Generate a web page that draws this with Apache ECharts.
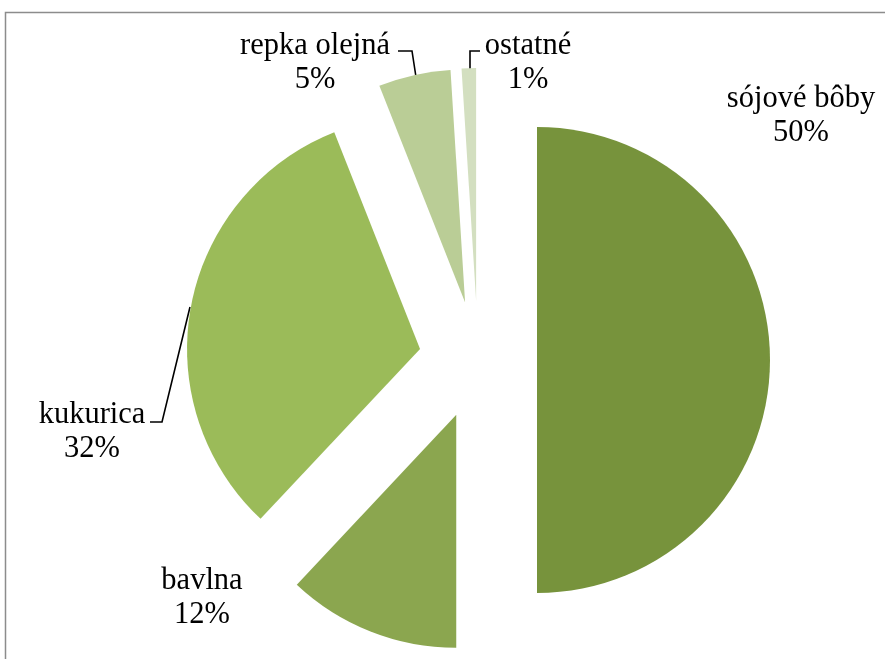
<!DOCTYPE html>
<html>
<head>
<meta charset="utf-8">
<script src="https://cdn.jsdelivr.net/npm/echarts@6/dist/echarts.min.js"></script>
<style>
  html, body { margin: 0; padding: 0; background: #fff; }
  #chart { width: 885px; height: 659px; }
</style>
</head>
<body>
<div id="chart"></div>
<script>
  // údaje
  var categories = ['sójové bôby', 'bavlna', 'kukurica', 'repka olejná', 'ostatné']
  var values = [50, 12, 32, 5, 1]
  var colors = ['#77933c', '#8ba64f', '#9bbb59', '#bacd96', '#d3dfc0']

  // umiestnenie popisov (stred textu) a vodiace čiary
  var labelPos = [[801, 116], [202, 598], [92, 432], [315, 63], [528, 63]]
  var leaderLines = [
    null,
    null,
    [[150, 422], [162, 422], [190, 307]],
    [[398, 51], [412, 51], [416, 77]],
    [[480, 51], [470, 51], [470, 69]]
  ]

  var pieCenter = [478, 360]
  var pieRadius = 233
  var explode = 59

  var myChart = echarts.init(document.getElementById('chart'))

  var total = values.reduce(function (a, b) { return a + b }, 0)

  // každý výsek ako samostatná séria, posunutá od stredu (rozložený koláč)
  var series = []
  var cum = 0
  categories.forEach(function (cat, k) {
    var mid = (cum + values[k] / 2) / total * Math.PI * 2
    cum += values[k]
    var cx = pieCenter[0] + Math.sin(mid) * explode
    var cy = pieCenter[1] - Math.cos(mid) * explode

    var data = categories.map(function (name, i) {
      var own = i === k
      return {
        name: name,
        value: values[i],
        itemStyle: { color: own ? colors[i] : 'rgba(0,0,0,0)' },
        label: { show: own },
        labelLine: { show: own && leaderLines[i] != null }
      }
    })

    series.push({
      type: 'pie',
      center: [cx, cy],
      radius: pieRadius,
      startAngle: 90,
      clockwise: true,
      silent: true,
      avoidLabelOverlap: false,
      itemStyle: { borderWidth: 0 },
      label: {
        position: 'outside',
        formatter: '{b}\n{c}%',
        color: '#000',
        fontFamily: 'Liberation Serif',
        fontSize: 30.5,
        lineHeight: 34,
        align: 'center'
      },
      labelLine: {
        lineStyle: { color: '#000', width: 1.6 }
      },
      labelLayout: function (params) {
        var i = params.dataIndex
        if (i !== k) return {}
        var res = {
          x: labelPos[i][0],
          y: labelPos[i][1],
          align: 'center',
          verticalAlign: 'middle'
        }
        if (leaderLines[i]) res.labelLinePoints = leaderLines[i]
        return res
      },
      emphasis: { disabled: true },
      data: data
    })
  })

  var option = {
    backgroundColor: '#fff',
    animation: false,
    graphic: [{
      type: 'rect',
      shape: { x: 5.5, y: 12.5, width: 950, height: 750 },
      style: { fill: 'none', stroke: '#8c8c8c', lineWidth: 1.5 },
      silent: true
    }],
    series: series
  }

  myChart.setOption(option)
</script>
</body>
</html>
